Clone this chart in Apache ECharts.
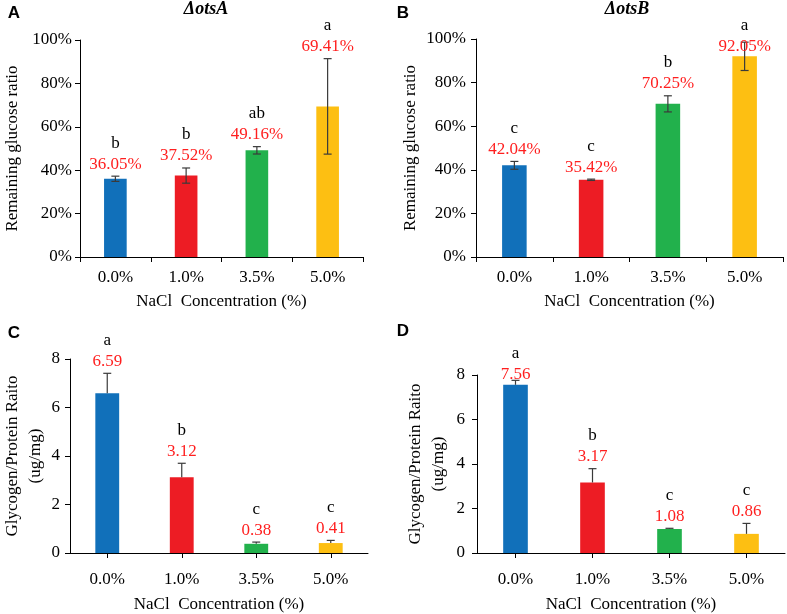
<!DOCTYPE html>
<html>
<head>
<meta charset="utf-8">
<script src="https://cdn.jsdelivr.net/npm/echarts@6/dist/echarts.min.js"></script>
<style>
html,body{margin:0;padding:0;background:#fff;}
#chart{width:787px;height:614px;}
</style>
</head>
<body>
<div id="chart"></div>
<script>
// ---------- data ----------
const categories = ['0.0%', '1.0%', '3.5%', '5.0%'];
const barColors = ['#1170BA', '#ED1C24', '#22B14C', '#FDBF12'];

const otsAGlucose = [36.05, 37.52, 49.16, 69.41];
const otsAGlucoseErr = [1.2, 3.5, 1.7, 22.0];
const otsAGlucoseLetters = ['b', 'b', 'ab', 'a'];

const otsBGlucose = [42.04, 35.42, 70.25, 92.05];
const otsBGlucoseErr = [1.8, 0.3, 3.7, 6.5];
const otsBGlucoseLetters = ['c', 'c', 'b', 'a'];

const otsAGlycogen = [6.59, 3.12, 0.38, 0.41];
const otsAGlycogenErr = [0.82, 0.58, 0.07, 0.11];
const otsAGlycogenLetters = ['a', 'b', 'c', 'c'];

const otsBGlycogen = [7.56, 3.17, 1.08, 0.86];
const otsBGlycogenErr = [0.2, 0.62, 0.03, 0.47];
const otsBGlycogenLetters = ['a', 'b', 'c', 'c'];

const glucoseTicks = [0, 20, 40, 60, 80, 100];
const glycogenTicks = [0, 2, 4, 6, 8];

// ---------- styling ----------
const SERIF = '"Liberation Serif", "Times New Roman", serif';
const FS = 17;

const chart = echarts.init(document.getElementById('chart'), null, {renderer: 'canvas'});

const grids = [
  {left: 70, top: 40, width: 293, height: 217},
  {left: 476, top: 39, width: 307, height: 218},
  {left: 65, top: 359, width: 303, height: 203},
  {left: 477, top: 375, width: 308, height: 187}
];

function xAxis(i, centerTicks, labelMargin, nameGap) {
  return {
    type: 'category', gridIndex: i, data: categories,
    name: 'NaCl  Concentration (%)', nameLocation: 'middle', nameGap: nameGap,
    nameTextStyle: {fontFamily: SERIF, fontSize: FS, color: '#000'},
    axisLine: {lineStyle: {color: '#000', width: 1}},
    axisTick: {show: true, alignWithLabel: centerTicks, length: 5, lineStyle: {color: '#000'}},
    axisLabel: {fontFamily: SERIF, fontSize: FS, color: '#000', margin: labelMargin},
    splitLine: {show: false}
  };
}
function yAxis(i, ticks, pct, name, gap, margin) {
  return {
    type: 'value', gridIndex: i, min: ticks[0], max: ticks[ticks.length - 1],
    interval: ticks[1] - ticks[0],
    name: name, nameLocation: 'middle', nameGap: gap,
    nameTextStyle: {fontFamily: SERIF, fontSize: FS, color: '#000', lineHeight: 23},
    axisLine: {show: true, lineStyle: {color: '#000', width: 1}},
    axisTick: {show: true, length: 5, lineStyle: {color: '#000'}},
    axisLabel: {fontFamily: SERIF, fontSize: FS, color: '#000', margin: margin,
      formatter: pct ? '{value}%' : '{value}'},
    splitLine: {show: false}
  };
}

function barSeries(i, values) {
  return {
    type: 'bar', xAxisIndex: i, yAxisIndex: i, barWidth: '32%',
    data: values.map((v, k) => ({value: v, itemStyle: {color: barColors[k]}})),
    silent: true
  };
}

function errSeries(i, values, errs, letters, twoSided, pct, axisMax) {
  return {
    type: 'custom', xAxisIndex: i, yAxisIndex: i, clip: false, silent: true, z: 5,
    data: values.map((v, k) => [k, v, errs[k]]),
    renderItem: function (params, api) {
      const idx = api.value(0), v = api.value(1), e = api.value(2);
      const top = api.coord([idx, v + e]);
      const barTop = api.coord([idx, v]);
      const bot = twoSided ? api.coord([idx, v - e]) : barTop;
      const gridTop = api.coord([idx, axisMax])[1];
      const x = top[0];
      const ls = {stroke: '#3a3a3a', lineWidth: 1.2};
      const children = [
        {type: 'line', shape: {x1: x, y1: top[1], x2: x, y2: bot[1]}, style: ls},
        {type: 'line', shape: {x1: x - 4, y1: top[1], x2: x + 4, y2: top[1]}, style: ls}
      ];
      if (twoSided) {
        children.push({type: 'line', shape: {x1: x - 4, y1: bot[1], x2: x + 4, y2: bot[1]}, style: ls});
      }
      const label = pct ? v.toFixed(2) + '%' : v.toFixed(2);
      let ry = top[1] - 12;
      if (ry < gridTop) ry = barTop[1] - 10;
      children.push({type: 'text', style: {text: label, x: x, y: ry, align: 'center', verticalAlign: 'middle',
        textAlign: 'center', textVerticalAlign: 'middle', fill: '#FF1F1F', font: 'normal ' + FS + 'px ' + SERIF}});
      children.push({type: 'text', style: {text: letters[params.dataIndex], x: x, y: ry - 21, align: 'center', verticalAlign: 'middle',
        textAlign: 'center', textVerticalAlign: 'middle', fill: '#000', font: 'normal ' + FS + 'px ' + SERIF}});
      return {type: 'group', children: children};
    }
  };
}

function txt(text, x, y, font) {
  return {type: 'text', x: x, y: y, style: {text: text, font: font, fill: '#000',
    textAlign: 'center', textVerticalAlign: 'middle', align: 'center', verticalAlign: 'middle'}};
}

const letterFont = 'bold 17px "Liberation Sans", Arial, sans-serif';
const titleFont = 'italic bold 18px ' + SERIF;
const gMax = glucoseTicks[glucoseTicks.length - 1];
const yMax = glycogenTicks[glycogenTicks.length - 1];

const option = {
  backgroundColor: '#fff',
  animation: false,
  grid: grids,
  xAxis: [xAxis(0, false, 12, 36), xAxis(1, false, 12, 36), xAxis(2, true, 18, 43), xAxis(3, true, 18, 43)],
  yAxis: [
    yAxis(0, glucoseTicks, true, 'Remaining glucose ratio', 56, 8),
    yAxis(1, glucoseTicks, true, 'Remaining glucose ratio', 47, 10),
    yAxis(2, glycogenTicks, false, 'Glycogen/Protein Raito\n(ug/mg)', 23, 10),
    yAxis(3, glycogenTicks, false, 'Glycogen/Protein Raito\n(ug/mg)', 27, 12)
  ],
  series: [
    barSeries(0, otsAGlucose), errSeries(0, otsAGlucose, otsAGlucoseErr, otsAGlucoseLetters, true, true, gMax),
    barSeries(1, otsBGlucose), errSeries(1, otsBGlucose, otsBGlucoseErr, otsBGlucoseLetters, true, true, gMax),
    barSeries(2, otsAGlycogen), errSeries(2, otsAGlycogen, otsAGlycogenErr, otsAGlycogenLetters, false, false, yMax),
    barSeries(3, otsBGlycogen), errSeries(3, otsBGlycogen, otsBGlycogenErr, otsBGlycogenLetters, false, false, yMax)
  ],
  graphic: [
    txt('A', 14, 13, letterFont),
    txt('B', 403, 13, letterFont),
    txt('C', 14, 333, letterFont),
    txt('D', 403, 331, letterFont),
    txt('ΔotsA', 206, 9, titleFont),
    txt('ΔotsB', 627, 9, titleFont)
  ]
};
chart.setOption(option);
</script>
</body>
</html>
